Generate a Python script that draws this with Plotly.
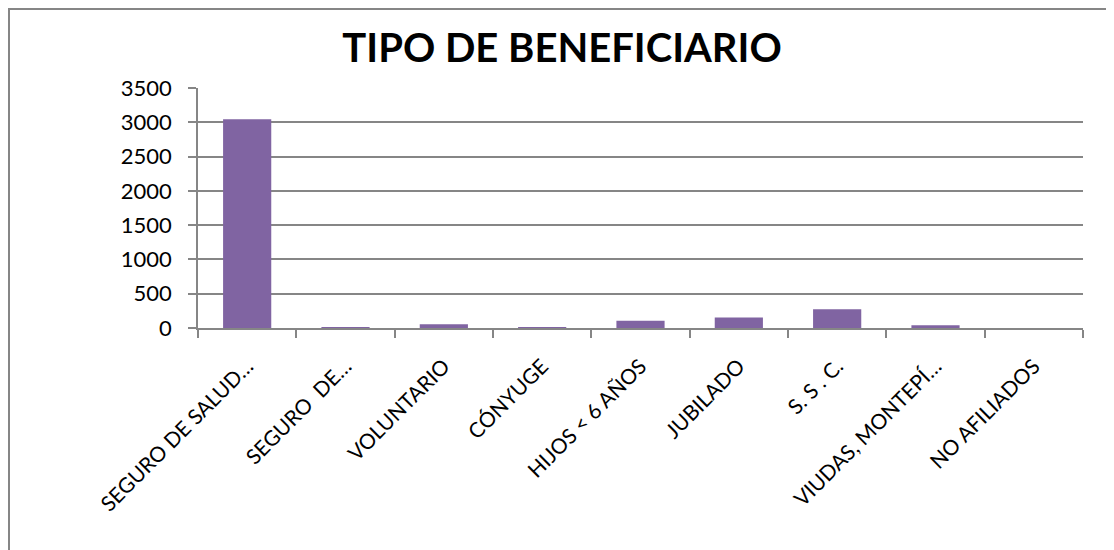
import plotly.graph_objects as go

categories = ["SEGURO DE SALUD…", "SEGURO  DE…", "VOLUNTARIO", "CÓNYUGE", "HIJOS < 6 AÑOS",
              "JUBILADO", "S. S . C.", "VIUDAS, MONTEPÍ…", "NO AFILIADOS"]
values = [3045, 2, 54, 3, 104, 153, 272, 40, 0]
y_ticks = [0, 500, 1000, 1500, 2000, 2500, 3000, 3500]

# page geometry (the page body adds an 8px offset)
OFF = 8
W, H = 1114 - OFF, 550 - OFF
L, R, T, B = 198, 1083, 88, 328   # plot area in page pixels
font = "Lato, 'Open Sans', sans-serif"

fig = go.Figure(go.Bar(x=categories, y=values, marker=dict(color="#8064A2", line=dict(width=0))))

def px_x(x):
    return (x - L) / (R - L)

def px_y(y):
    return (B - y) / (B - T)

fig.update_layout(
    width=W, height=H,
    margin=dict(l=L - OFF, r=W + OFF - R, t=T - OFF, b=H + OFF - B, pad=0, autoexpand=False),
    paper_bgcolor="white", plot_bgcolor="white",
    bargap=0.51,
    showlegend=False,
    title=dict(text="<b>TIPO DE BENEFICIARIO</b>", x=(562 - OFF) / W,
               xanchor="center", y=1 - (48 - OFF) / H, yanchor="middle", automargin=False,
               font=dict(family=font, size=40, color="black")),
    font=dict(family=font, color="black"),
    shapes=[dict(type="rect", xref="paper", yref="paper",
                 x0=px_x(9), x1=px_x(1140), y0=px_y(570), y1=px_y(9),
                 line=dict(color="#868686", width=2), fillcolor="rgba(0,0,0,0)", layer="below")],
)
fig.update_xaxes(
    type="category", tickangle=-45, tickfont=dict(size=21, family=font),
    showline=True, linecolor="#868686", linewidth=1.5, automargin=False,
    ticks="outside", tickson="boundaries", ticklen=8, tickcolor="#868686", tickwidth=1.5,
    showgrid=False, ticklabelstandoff=16,
)
fig.update_yaxes(
    range=[0, 3500], tickvals=y_ticks, tickfont=dict(size=22, family=font),
    showline=True, linecolor="#868686", linewidth=1.5, automargin=False,
    ticks="outside", ticklen=8, tickcolor="#868686", tickwidth=1.5,
    showgrid=True, gridcolor="#868686", gridwidth=1.5, zeroline=False,
    ticklabelstandoff=12,
)

fig.write_html("out.html")
